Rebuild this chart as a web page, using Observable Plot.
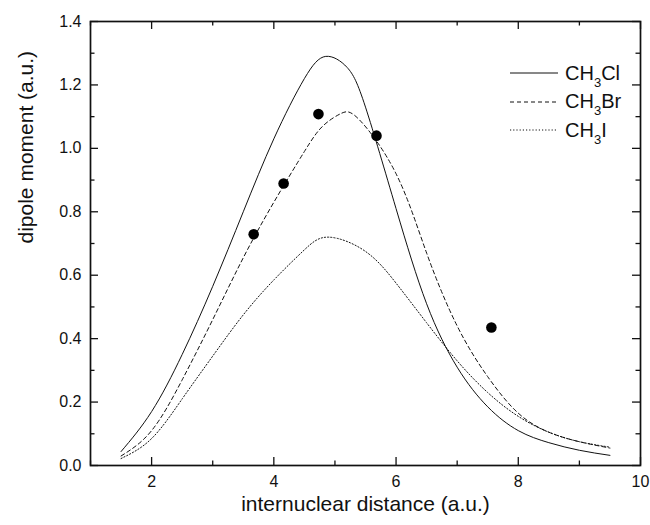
<!DOCTYPE html>
<html>
<head>
<meta charset="utf-8">
<script src="https://cdn.jsdelivr.net/npm/d3@7"></script>
<script src="https://cdn.jsdelivr.net/npm/@observablehq/plot@0.6"></script>
<style>
  html, body { margin: 0; padding: 0; background: #fff; }
  #wrap { position: relative; width: 650px; height: 525px; font-family: "Liberation Sans", Arial, sans-serif; }
  #legend { position: absolute; left: 508px; top: 59px; font-size: 20px; color: #111; }
  #legend .row { display: flex; align-items: center; height: 28.5px; }
  #legend svg { width: 50px; height: 10px; margin-right: 7px; }
  #legend sub { font-size: 13px; vertical-align: -7px; line-height: 0; }
</style>
</head>
<body>
<div id="wrap">
  <div id="chart"></div>
  <div id="legend"></div>
</div>
<script>
// CH3Cl (solid)
const clX = [1.5, 2.0, 2.5, 3.0, 3.5, 4.0, 4.5, 4.85, 5.2, 5.5, 6.0, 6.5, 7.0, 7.5, 8.0, 8.5, 9.0, 9.5];
const clY = [0.044, 0.17, 0.35, 0.565, 0.80, 1.03, 1.22, 1.29, 1.255, 1.13, 0.81, 0.51, 0.31, 0.185, 0.11, 0.072, 0.048, 0.032];
// CH3Br (dashed)
const brX = [1.5, 2.0, 2.5, 3.0, 3.5, 4.0, 4.5, 4.8, 5.1, 5.4, 6.0, 6.5, 7.0, 7.5, 8.0, 8.5, 9.0, 9.5];
const brY = [0.03, 0.11, 0.27, 0.46, 0.655, 0.83, 0.99, 1.07, 1.11, 1.09, 0.92, 0.67, 0.44, 0.28, 0.165, 0.105, 0.075, 0.055];
// CH3I (dotted)
const iX = [1.5, 2.0, 2.5, 3.0, 3.5, 4.0, 4.5, 4.9, 5.5, 6.0, 6.5, 7.0, 7.5, 8.0, 8.5, 9.0, 9.5];
const iY = [0.022, 0.085, 0.21, 0.345, 0.475, 0.585, 0.68, 0.72, 0.675, 0.575, 0.45, 0.33, 0.23, 0.155, 0.105, 0.075, 0.058];
// experimental points
const expX = [3.67, 4.16, 4.73, 5.68, 7.56];
const expY = [0.729, 0.889, 1.108, 1.04, 0.435];
// ticks
const xMajor = [2, 4, 6, 8, 10];
const xMinor = [1, 3, 5, 7, 9];
const yMajor = [0, 0.2, 0.4, 0.6, 0.8, 1.0, 1.2, 1.4];
const yMinor = [0.1, 0.3, 0.5, 0.7, 0.9, 1.1, 1.3];
const xTitle = "internuclear distance (a.u.)";
const yTitle = "dipole moment (a.u.)";
const seriesNames = ["CH3Cl", "CH3Br", "CH3I"];

const W = 650, H = 525, mL = 90, mR = 10, mT = 21, mB = 60;
const innerW = W - mL - mR, innerH = H - mT - mB;
const toRows = (xs, ys) => xs.map((x, i) => ({x, y: ys[i]}));
const cl = toRows(clX, clY), br = toRows(brX, brY), ci = toRows(iX, iY), ex = toRows(expX, expY);
const ink = "#111";
const font = "'Liberation Sans', Arial, sans-serif";

const chart = Plot.plot({
  width: W, height: H,
  marginLeft: mL, marginRight: mR, marginTop: mT, marginBottom: mB,
  style: {fontFamily: font, color: ink, background: "white"},
  x: {domain: [1, 10]},
  y: {domain: [0, 1.4]},
  marks: [
    // inward ticks
    Plot.tickX(xMajor, {x: d => d, insetTop: innerH - 8, stroke: ink, strokeWidth: 1.3}),
    Plot.tickX(xMinor, {x: d => d, insetTop: innerH - 4.5, stroke: ink, strokeWidth: 1.3}),
    Plot.tickX(xMajor, {x: d => d, insetBottom: innerH - 8, stroke: ink, strokeWidth: 1.3}),
    Plot.tickX(xMinor, {x: d => d, insetBottom: innerH - 4.5, stroke: ink, strokeWidth: 1.3}),
    Plot.tickY(yMajor, {y: d => d, insetRight: innerW - 8, stroke: ink, strokeWidth: 1.3}),
    Plot.tickY(yMinor, {y: d => d, insetRight: innerW - 4.5, stroke: ink, strokeWidth: 1.3}),
    Plot.tickY(yMajor, {y: d => d, insetLeft: innerW - 8, stroke: ink, strokeWidth: 1.3}),
    Plot.tickY(yMinor, {y: d => d, insetLeft: innerW - 4.5, stroke: ink, strokeWidth: 1.3}),
    // tick labels
    Plot.axisX({ticks: xMajor, tickSize: 0, tickPadding: 10, tickFormat: d => String(d), fontSize: 16, label: null}),
    Plot.axisY({ticks: yMajor, tickSize: 0, tickPadding: 9, tickFormat: d3.format(".1f"), fontSize: 16, label: null}),
    // titles
    Plot.text([xTitle], {text: d => d, frameAnchor: "bottom", dy: 45, fontSize: 21, fill: ink}),
    Plot.text([yTitle], {text: d => d, frameAnchor: "left", dx: -64, rotate: -90, fontSize: 21, fill: ink}),
    // curves
    Plot.line(cl, {x: "x", y: "y", curve: "natural", stroke: ink, strokeWidth: 1}),
    Plot.line(br, {x: "x", y: "y", curve: "natural", stroke: ink, strokeWidth: 1, strokeDasharray: "4,3"}),
    Plot.line(ci, {x: "x", y: "y", curve: "natural", stroke: ink, strokeWidth: 1, strokeDasharray: "1.2,2"}),
    Plot.dot(ex, {x: "x", y: "y", r: 5.3, fill: "black", stroke: "none"}),
    Plot.frame({stroke: ink, strokeWidth: 1.7})
  ]
});
document.getElementById("chart").appendChild(chart);

// legend
const dashes = ["", "4,3", "1.2,2"];
const legend = d3.select("#legend");
seriesNames.forEach((name, i) => {
  const row = legend.append("div").attr("class", "row");
  const s = row.append("svg").attr("viewBox", "0 0 50 10");
  s.append("line").attr("x1", 2).attr("x2", 50).attr("y1", 5).attr("y2", 5)
    .attr("stroke", ink).attr("stroke-width", 1).attr("stroke-dasharray", dashes[i] || null);
  const m = name.match(/^(CH)(3)(.*)$/);
  const t = row.append("span");
  t.append("span").text(m[1]);
  t.append("sub").text(m[2]);
  t.append("span").text(m[3]);
});
</script>
</body>
</html>
